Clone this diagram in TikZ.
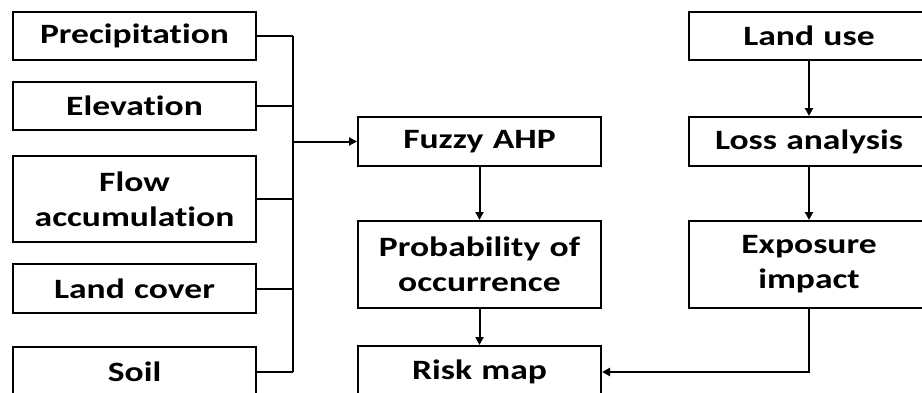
\documentclass[tikz,border=0pt]{standalone}
\usepackage{fontspec}
\setmainfont{Carlito}[Ligatures=NoCommon, FakeStretch=1.27]
\usetikzlibrary{arrows.meta}
\begin{document}
\begin{tikzpicture}[x=1pt,y=-1pt,
  box/.style={draw, line width=2pt, rectangle, inner sep=0pt, align=center,
    font=\fontsize{28}{35}\selectfont\bfseries, text width=236pt},
  link/.style={line width=2pt, -{Triangle[length=8pt,width=8pt]}},
  wire/.style={line width=2pt}]
\clip (0,0) rectangle (922,392);
\fill[white] (0,0) rectangle (922,392);

% inputs on the left
\node[box, minimum width=243pt, minimum height=48pt] (prec) at (134.5,36) {Precipitation};
\node[box, minimum width=243pt, minimum height=48pt] (elev) at (134.5,106) {Elevation};
\node[box, minimum width=243pt, minimum height=86pt] (flow) at (134.5,199) {Flow\\accumulation};
\node[box, minimum width=243pt, minimum height=49pt] (cover) at (134.5,288.5) {Land cover};
\node[box, minimum width=243pt, minimum height=50pt] (soil) at (134.5,372) {Soil};

% hazard chain
\node[box, minimum width=243pt, minimum height=49pt] (ahp) at (479.5,141.5) {Fuzzy AHP};
\node[box, minimum width=243pt, minimum height=87pt] (prob) at (479.5,264.5) {Probability of\\occurrence};
\node[box, minimum width=243pt, minimum height=52pt] (risk) at (479.5,372) {Risk map};

% exposure chain
\node[box, minimum width=240pt, minimum height=48pt] (use) at (809,36) {Land use};
\node[box, minimum width=240pt, minimum height=49pt] (loss) at (809,141.5) {Loss analysis};
\node[box, minimum width=240pt, minimum height=87pt] (expo) at (809,264.5) {Exposure\\impact};

% collector bus for the inputs
\coordinate (btop) at (293,36);
\coordinate (bbot) at (293,372);
\coordinate (bout) at (293,141.5);
\draw[wire] (prec.east) -- (prec.east -| btop);
\draw[wire] (elev.east) -- (elev.east -| btop);
\draw[wire] (flow.east) -- (flow.east -| btop);
\draw[wire] (cover.east) -- (cover.east -| btop);
\draw[wire] (soil.east) -- (soil.east -| btop);
\draw[wire] (btop) -- (bbot);
\draw[link] (bout) -- (ahp.west);

\draw[link] (ahp.south) -- (prob.north);
\draw[link] (prob.south) -- (risk.north);
\draw[link] (use.south) -- (loss.north);
\draw[link] (loss.south) -- (expo.north);
\draw[link] (expo.south) |- (risk.east);
\end{tikzpicture}
\end{document}
